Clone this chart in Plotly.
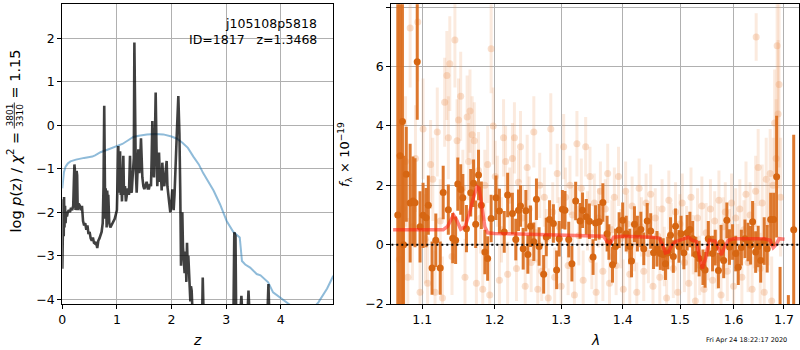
import plotly.graph_objects as go
import math

# ---------------- p(z) panel data ----------------
pz_z = [0.000, 0.008, 0.014, 0.020, 0.026, 0.032, 0.040, 0.050, 0.060, 0.070, 0.085, 0.100,
        0.120, 0.140, 0.160, 0.180, 0.200, 0.212, 0.222, 0.232, 0.242, 0.252, 0.262, 0.272,
        0.282, 0.300, 0.320, 0.340, 0.360, 0.380, 0.400, 0.420, 0.440, 0.460, 0.480, 0.500,
        0.520, 0.540, 0.560, 0.580, 0.600, 0.620, 0.640, 0.660, 0.680, 0.700, 0.720, 0.740,
        0.755, 0.768, 0.778, 0.786, 0.794, 0.802, 0.812, 0.822, 0.832, 0.842, 0.860, 0.880,
        0.900, 0.920, 0.940, 0.960, 0.980, 1.000, 1.012, 1.026, 1.036, 1.046, 1.058, 1.070,
        1.082, 1.093, 1.105, 1.118, 1.130, 1.148, 1.165, 1.180, 1.200, 1.220, 1.240, 1.255,
        1.271, 1.285, 1.300, 1.310, 1.320, 1.332, 1.345, 1.362, 1.378, 1.393, 1.410, 1.423,
        1.441, 1.455, 1.466, 1.485, 1.502, 1.520, 1.545, 1.565, 1.588, 1.605, 1.624, 1.636,
        1.649, 1.662, 1.679, 1.695, 1.710, 1.725, 1.740, 1.755, 1.771, 1.790, 1.807, 1.820,
        1.832, 1.850, 1.868, 1.890, 1.911, 1.925, 1.942, 1.960, 1.978, 1.995, 2.015, 2.030,
        2.039, 2.055, 2.076, 2.100, 2.125, 2.145, 2.160, 2.174, 2.186, 2.198, 2.210, 2.223,
        2.240, 2.259, 2.272, 2.284, 2.296, 2.308, 2.322, 2.334, 2.345, 2.356, 2.369, 2.385,
        2.400, 2.420, 2.450, 2.540, 2.560, 2.572, 2.584, 2.600, 3.100, 3.135, 3.150, 3.160,
        3.172, 3.185, 3.210, 3.255, 3.280, 3.300, 3.340, 3.390, 3.410, 3.430, 3.470, 3.740,
        3.760, 3.775, 3.790, 3.820, 4.963]
pz_logp = [-3.30, -2.40, -2.85, -1.70, -2.55, -1.65, -2.35, -1.85, -2.25, -2.00, -2.10, -2.00,
           -1.95, -2.00, -1.90, -1.95, -1.85, -1.30, -0.90, -1.05, -1.95, -1.50, -1.05, -1.15,
           -1.95, -1.80, -1.85, -1.95, -1.85, -2.20, -2.30, -2.25, -2.40, -2.30, -2.50, -2.45,
           -2.60, -2.65, -2.58, -2.70, -2.72, -2.68, -2.82, -2.65, -2.60, -2.50, -2.45, -2.25,
           -1.40, 0.45, -1.30, -2.15, -1.45, -1.65, -2.35, -1.50, -1.75, -1.60, -2.25, -2.35,
           -2.30, -2.25, -2.20, -2.15, -2.05, -1.95, -1.30, -0.48, -1.55, -1.40, -0.60, -1.60,
           -1.30, -1.75, -1.20, -0.70, -1.60, -1.40, -1.75, -1.60, -1.45, -1.60, -0.70, -1.50,
           -1.55, -1.25, -0.95, -0.75, 1.90, -0.50, -1.00, -1.55, -0.80, -0.55, -1.10, -0.93,
           -0.30, -1.00, -1.20, -1.40, -1.47, -1.40, -1.30, -1.45, -1.45, -1.35, -1.40, -0.80,
           0.10, -0.90, -1.20, -0.40, 0.75, -0.50, -1.40, -0.90, -0.63, -1.30, -1.16, -1.50,
           -0.86, -1.30, -1.40, -1.10, -0.82, -1.40, -1.70, -1.80, -2.00, -1.85, -1.47, -1.70,
           -1.95, -1.60, -0.63, -0.10, 0.67, -0.20, -1.50, -3.23, -2.60, -2.00, -2.80, -3.05,
           -3.40, -2.90, -3.60, -2.70, -3.20, -3.00, -3.60, -3.76, -4.05, -3.70, -3.80, -4.30,
           -4.20, -4.60, -5.00, -5.00, -4.50, -3.50, -4.50, -5.00, -5.00, -4.30, -2.46, -2.50,
           -2.55, -4.50, -5.00, -4.40, -3.92, -4.40, -5.00, -4.40, -3.80, -4.40, -5.00, -5.00,
           -4.00, -3.65, -4.30, -5.00, -5.00]

prior_z = [0.000, 0.010, 0.030, 0.060, 0.100, 0.150, 0.250, 0.400, 0.550, 0.600, 0.700, 0.850,
           1.000, 1.100, 1.200, 1.300, 1.400, 1.550, 1.700, 1.850, 2.000, 2.100, 2.200, 2.300,
           2.400, 2.500, 2.580, 2.680, 2.770, 2.890, 3.010, 3.130, 3.200, 3.250, 3.290, 3.350,
           3.440, 3.560, 3.630, 3.700, 3.770, 3.860, 3.960, 4.110, 4.300, 4.450, 4.600, 4.690,
           4.850, 4.963]
prior_logp = [-1.45, -1.30, -1.08, -0.95, -0.88, -0.83, -0.79, -0.75, -0.72, -0.69, -0.62, -0.55,
              -0.47, -0.43, -0.35, -0.27, -0.24, -0.21, -0.20, -0.21, -0.26, -0.31, -0.40, -0.52,
              -0.72, -0.90, -1.10, -1.30, -1.50, -1.82, -2.20, -2.45, -2.52, -2.58, -3.12, -3.20,
              -3.27, -3.42, -3.45, -3.52, -3.61, -3.84, -3.93, -4.07, -4.25, -4.35, -4.20, -4.07,
              -3.75, -3.46]

# ---------------- spectrum panel data ----------------
bright_wave = [1.068, 1.071, 1.074, 1.0755, 1.079, 1.084, 1.0877, 1.0904, 1.0933, 1.097, 1.101,
               1.105, 1.108, 1.113, 1.118, 1.124, 1.128, 1.135, 1.141, 1.145, 1.148, 1.152,
               1.155, 1.160, 1.166, 1.170, 1.173, 1.177, 1.181, 1.186, 1.190, 1.195, 1.202,
               1.207, 1.214, 1.219, 1.226, 1.231, 1.235, 1.238, 1.242, 1.246, 1.249, 1.253,
               1.258, 1.262, 1.266, 1.273, 1.277, 1.282, 1.288, 1.293, 1.297, 1.302, 1.306,
               1.312, 1.317, 1.323, 1.330, 1.334, 1.340, 1.345, 1.351, 1.355, 1.361, 1.367,
               1.374, 1.377, 1.383, 1.388, 1.394, 1.400, 1.406, 1.412, 1.415, 1.420, 1.425,
               1.431, 1.436, 1.442, 1.448, 1.453, 1.459, 1.465, 1.470, 1.474, 1.478, 1.483,
               1.488, 1.492, 1.498, 1.502, 1.507, 1.513, 1.518, 1.523, 1.529, 1.535, 1.542,
               1.546, 1.552, 1.560, 1.565, 1.571, 1.576, 1.581, 1.587, 1.592, 1.598, 1.604,
               1.609, 1.615, 1.622, 1.628, 1.633, 1.637, 1.643, 1.648, 1.653, 1.660, 1.666,
               1.673, 1.679, 1.685, 1.692, 1.709, 1.720]
bright_flux = [1.0, 3.0, 4.15, 0.0, 2.37, 1.40, 1.47, 1.41, 6.16, 0.60, 0.99,
               0.91, 1.33, -0.79, 0.15, -0.79, 1.76, 1.18, 0.22, 0.15, 2.04, 1.86,
               1.58, 0.54, 1.75, 2.07, 0.69, 2.35, 1.33, -0.25, -0.47, 0.88, 1.58,
               1.13, 0.43, 1.67, 1.05, 0.17, 1.16, 1.30, -0.14, 1.14, -0.33, 0.62,
               0.10, 1.53, -0.06, -1.00, 0.26, 0.85, 0.71, -0.85, 0.20, 1.19, 1.16,
               0.17, -0.64, 1.47, 0.80, 1.16, 0.94, 0.79, -0.42, 0.73, 0.77, 1.42,
               0.37, 0.09, -0.68, -0.06, 0.49, 0.82, 0.37, -0.06, -0.55, 0.69, 0.37,
               0.51, -0.14, 0.80, 0.46, -0.27, -0.14, -0.30, -0.33, -0.64, -0.28, 0.32,
               -0.40, 0.62, -0.06, 0.37, -0.28, 0.40, 0.51, 0.20, -0.33, -0.47, -0.76,
               -0.85, 0.20, -0.30, -0.10, -0.87, 0.06, -0.53, 0.82, -0.08, 0.09, -0.30,
               -0.76, -0.10, 0.20, 0.09, -0.02, 0.77, -0.25, -0.06, -0.53, 0.12, -0.14,
               0.85, 0.85, 2.29, -2.30, -2.50, 0.50]
bright_err = [10.0, 10.0, 10.0, 3.0, 1.6, 2.0, 1.5, 1.5, 1.95, 1.2, 1.1,
              1.0, 1.0, 0.9, 0.9, 0.9, 0.9, 0.85, 0.85, 0.8, 0.9, 0.85,
              0.8, 0.8, 0.8, 0.8, 0.8, 0.85, 0.8, 0.75, 0.75, 0.8, 0.75,
              0.75, 0.7, 0.75, 0.7, 0.7, 0.7, 0.7, 0.7, 0.7, 0.65, 0.7,
              0.65, 0.7, 0.65, 0.65, 0.65, 0.65, 0.65, 0.65, 0.6, 0.65, 0.65,
              0.6, 0.6, 0.65, 0.6, 0.6, 0.6, 0.6, 0.6, 0.6, 0.6, 0.65,
              0.6, 0.6, 0.6, 0.6, 0.6, 0.6, 0.6, 0.6, 0.55, 0.6, 0.6,
              0.6, 0.55, 0.6, 0.6, 0.55, 0.6, 0.55, 0.55, 0.55, 0.55, 0.6,
              0.55, 0.6, 0.55, 0.6, 0.55, 0.6, 0.6, 0.6, 0.6, 0.6, 0.6,
              0.6, 0.6, 0.6, 0.6, 0.6, 0.6, 0.6, 0.6, 0.6, 0.6, 0.6,
              0.6, 0.6, 0.65, 0.65, 0.65, 0.7, 0.7, 0.7, 0.75, 0.8, 0.8,
              0.9, 0.9, 2.05, 1.55, 0.8, 3.2]

faint_wave = [1.070, 1.074, 1.078, 1.081, 1.084, 1.087, 1.091, 1.094, 1.097, 1.101, 1.104,
              1.107, 1.111, 1.114, 1.117, 1.120, 1.124, 1.127, 1.130, 1.133, 1.135, 1.137,
              1.140, 1.144, 1.147, 1.149, 1.152, 1.155, 1.158, 1.161, 1.163, 1.165, 1.168,
              1.171, 1.174, 1.177, 1.180, 1.183, 1.186, 1.190, 1.193, 1.195, 1.198, 1.201,
              1.204, 1.207, 1.210, 1.213, 1.216, 1.219, 1.222, 1.226, 1.229, 1.232, 1.235,
              1.238, 1.241, 1.245, 1.248, 1.251, 1.254, 1.258, 1.261, 1.264, 1.267, 1.270,
              1.274, 1.277, 1.280, 1.284, 1.287, 1.290, 1.294, 1.297, 1.300, 1.304, 1.307,
              1.311, 1.314, 1.318, 1.321, 1.325, 1.328, 1.332, 1.335, 1.339, 1.342, 1.346,
              1.349, 1.353, 1.356, 1.360, 1.363, 1.367, 1.371, 1.375, 1.378, 1.382, 1.386,
              1.389, 1.393, 1.397, 1.401, 1.405, 1.408, 1.412, 1.416, 1.420, 1.424, 1.428,
              1.432, 1.436, 1.440, 1.444, 1.448, 1.452, 1.456, 1.460, 1.464, 1.468, 1.472,
              1.476, 1.480, 1.484, 1.488, 1.492, 1.496, 1.500, 1.504, 1.508, 1.512, 1.516,
              1.520, 1.524, 1.528, 1.532, 1.536, 1.540, 1.544, 1.548, 1.552, 1.556, 1.560,
              1.564, 1.568, 1.572, 1.576, 1.580, 1.584, 1.588, 1.592, 1.596, 1.600, 1.604,
              1.608, 1.612, 1.616, 1.620, 1.624, 1.628, 1.632, 1.636, 1.640, 1.643, 1.644,
              1.648, 1.652, 1.656, 1.660, 1.664, 1.668, 1.672, 1.675, 1.678, 1.681, 1.684,
              1.686, 1.688, 1.690, 1.693]
faint_flux = [-0.5, 1.2, 2.8, -1.1, 7.3, 0.6, 2.9, 7.5, -1.6, 3.9, 0.2,
              -1.3, 2.7, 2.2, -1.6, 3.8, 0.8, -1.8, 4.8, 5.7, 3.6, 6.1,
              -0.4, 6.9, 3.5, 4.2, 5.0, 1.9, -1.1, 4.3, 2.8, 4.5, 3.7,
              3.5, -1.3, 2.5, 0.9, -1.5, 2.0, 2.7, -1.7, 6.6, 4.0, 2.3,
              1.8, -1.2, 0.5, 3.6, 2.8, -1.0, 1.5, 2.9, 3.6, -0.8, 2.1,
              3.3, 0.9, -1.4, 2.6, 1.2, -0.6, 3.8, 0.4, -1.5, 2.0, -0.9,
              1.6, 0.2, -1.8, 3.9, 1.1, -1.1, 2.4, 0.6, -1.4, 3.3, 1.6,
              -0.7, 2.0, 1.0, -1.7, 3.4, 0.3, 1.9, -1.2, 3.3, 0.8, 2.3,
              -0.5, 1.4, -1.6, 0.9, 1.8, -0.9, 1.2, 2.4, -1.3, 0.5, 1.6,
              -0.7, 2.3, 0.2, -1.5, 1.8, 0.7, -1.0, 1.3, 0.1, -1.6, 1.9,
              0.6, -0.9, 1.4, -0.3, 1.7, -1.4, 0.9, 0.3, -1.1, 1.2, -0.4,
              -1.8, 1.5, 0.4, -0.8, 1.1, -1.6, 0.7, 1.4, -0.6, 0.3, -1.3,
              1.6, 0.0, -1.9, 0.9, -0.7, 1.3, -1.5, 0.4, -0.2, 1.2, -1.2,
              0.8, -0.5, 1.5, -1.7, 0.6, 1.1, -0.9, 0.2, 1.4, -1.4, 0.9,
              -0.3, 1.2, -1.1, 0.5, 1.7, -0.6, 1.0, -1.5, 0.3, 1.8, 7.0,
              2.6, -0.8, 1.4, -1.6, 2.2, 0.7, 2.4, -1.9, 2.0, 4.1, 2.9,
              6.7, 4.4, 5.4, 1.6]
faint_err = [2.5, 3.0, 2.2, 2.0, 2.0, 1.8, 1.8, 2.0, 1.6, 1.7, 1.5,
             1.5, 1.5, 1.4, 1.4, 1.5, 1.4, 1.4, 1.5, 1.5, 1.4, 1.6,
             1.3, 1.6, 1.4, 1.4, 1.5, 1.3, 1.3, 1.4, 1.3, 1.4, 1.3,
             1.3, 1.2, 1.3, 1.2, 1.2, 1.2, 1.3, 1.2, 1.5, 1.3, 1.2,
             1.2, 1.2, 1.1, 1.3, 1.2, 1.1, 1.1, 1.2, 1.2, 1.1, 1.1,
             1.2, 1.1, 1.1, 1.1, 1.1, 1.0, 1.2, 1.0, 1.0, 1.1, 1.0,
             1.0, 1.0, 1.0, 1.2, 1.0, 1.0, 1.0, 1.0, 1.0, 1.1, 1.0,
             1.0, 1.0, 1.0, 1.0, 1.1, 1.0, 1.0, 1.0, 1.0, 1.0, 1.0,
             1.0, 1.0, 1.0, 1.0, 1.0, 1.0, 1.0, 1.0, 1.0, 1.0, 1.0,
             1.0, 1.0, 1.0, 1.0, 1.0, 1.0, 1.0, 1.0, 1.0, 1.0, 1.0,
             1.0, 1.0, 1.0, 1.0, 1.0, 1.0, 1.0, 1.0, 1.0, 1.0, 1.0,
             1.0, 1.0, 1.0, 1.0, 1.0, 1.0, 1.0, 1.0, 1.0, 1.0, 1.0,
             1.0, 1.0, 1.0, 1.0, 1.0, 1.0, 1.0, 1.0, 1.0, 1.0, 1.0,
             1.0, 1.0, 1.0, 1.0, 1.0, 1.0, 1.0, 1.0, 1.0, 1.0, 1.0,
             1.0, 1.0, 1.0, 1.0, 1.1, 1.0, 1.1, 1.1, 1.1, 1.2, 0.8,
             1.3, 1.2, 1.3, 1.3, 1.4, 1.4, 1.5, 1.5, 1.6, 1.8, 2.0,
             2.5, 2.5, 2.8, 2.0]

model_wave = [1.062, 1.128, 1.134, 1.139, 1.142, 1.146, 1.152, 1.158, 1.164, 1.170, 1.175,
              1.178, 1.182, 1.186, 1.190, 1.200, 1.250, 1.300, 1.360, 1.368, 1.374, 1.379,
              1.385, 1.400, 1.450, 1.463, 1.469, 1.474, 1.479, 1.486, 1.492, 1.505, 1.515,
              1.522, 1.530, 1.536, 1.541, 1.547, 1.554, 1.565, 1.571, 1.577, 1.583, 1.590,
              1.600, 1.660, 1.672, 1.678, 1.684, 1.690, 1.701]
model_flux = [0.50, 0.50, 0.62, 0.90, 1.00, 0.85, 0.52, 0.60, 1.05, 1.60, 1.95,
              1.90, 1.30, 0.60, 0.40, 0.38, 0.35, 0.32, 0.30, 0.28, 0.10, 0.05,
              0.25, 0.28, 0.25, 0.22, 0.00, -0.28, -0.25, 0.00, 0.10, 0.20, 0.25,
              0.15, 0.10, -0.45, -0.80, -0.45, 0.15, 0.12, -0.15, -0.35, -0.05, 0.15,
              0.20, 0.20, 0.15, -0.10, 0.00, 0.20, 0.18]

zero_wave = [1.0597, 1.731]
zero_flux = [0.0, 0.0]

# ---------------- figure ----------------
fig = go.Figure()

fig.add_trace(go.Scatter(x=prior_z, y=prior_logp, mode="lines",
                         line=dict(color="rgba(31,119,180,0.5)", width=2),
                         xaxis="x", yaxis="y", showlegend=False))
fig.add_trace(go.Scatter(x=pz_z, y=pz_logp, mode="lines",
                         line=dict(color="rgba(0,0,0,0.75)", width=2.6),
                         xaxis="x", yaxis="y", showlegend=False))

fig.add_trace(go.Scatter(x=faint_wave, y=faint_flux, mode="markers",
                         marker=dict(color="rgba(236,150,90,0.3)", size=7),
                         error_y=dict(type="data", array=faint_err, width=0, thickness=3,
                                      color="rgba(236,150,90,0.2)"),
                         xaxis="x2", yaxis="y2", showlegend=False))
fig.add_trace(go.Scatter(x=bright_wave, y=bright_flux, mode="markers",
                         marker=dict(color="rgb(214,102,18)", size=7),
                         error_y=dict(type="data", array=bright_err, width=0, thickness=3,
                                      color="rgba(218,108,28,0.92)"),
                         xaxis="x2", yaxis="y2", showlegend=False))
fig.add_trace(go.Scatter(x=model_wave, y=model_flux, mode="lines",
                         line=dict(color="rgba(255,30,20,0.55)", width=3.5),
                         xaxis="x2", yaxis="y2", showlegend=False))
fig.add_trace(go.Scatter(x=zero_wave, y=zero_flux, mode="lines",
                         line=dict(color="black", width=2, dash="2px,3px"),
                         xaxis="x2", yaxis="y2", showlegend=False))

font_family = "DejaVu Sans"
axis_common = dict(showgrid=True, gridcolor="#b0b0b0", gridwidth=1, zeroline=False,
                   showline=True, linecolor="black", linewidth=1, mirror=True,
                   ticks="outside", ticklen=4, tickcolor="black", tickwidth=1,
                   automargin=False,
                   tickfont=dict(family=font_family, size=12.5, color="black"))

y_dom = [1 - 304 / 350, 1 - 4.3 / 350]

lam_ticks = [1.1, 1.2, 1.3, 1.4, 1.5, 1.6, 1.7]
fig.update_layout(
    width=800, height=350,
    margin=dict(l=0, r=0, t=0, b=0, autoexpand=False),
    paper_bgcolor="white", plot_bgcolor="white",
    font=dict(family=font_family, color="black"),
    xaxis=dict(domain=[62.3 / 800, 333.3 / 800], range=[0, 4.963],
               tickvals=[0, 1, 2, 3, 4], anchor="y", **axis_common),
    yaxis=dict(domain=y_dom, range=[-4.108, 2.78],
               tickvals=[-4, -3, -2, -1, 0, 1, 2],
               ticktext=["\u22124", "\u22123", "\u22122", "\u22121", "0", "1", "2"],
               anchor="x", **axis_common),
    xaxis2=dict(domain=[391.3 / 800, 799 / 800], type="log",
                range=[math.log10(1.0597), math.log10(1.731)],
                tickmode="array", tickvals=lam_ticks,
                ticktext=[str(t) for t in lam_ticks], anchor="y2", **axis_common),
    yaxis2=dict(domain=y_dom, range=[-2, 8.1], tickvals=[-2, 0, 2, 4, 6, 8],
                ticktext=["\u22122", "0", "2", "4", "6", "8"],
                anchor="x2", **axis_common),
)

def px_x(p):
    return p / 800

def px_y(p):
    return 1 - p / 350

ann = []
ann.append(dict(text="j105108p5818", x=px_x(318.5), y=px_y(14.5), xanchor="right", yanchor="top",
                font=dict(size=12.5)))
ann.append(dict(text="ID=1817   z=1.3468", x=px_x(318.5), y=px_y(29.5), xanchor="right",
                yanchor="top", font=dict(size=12.5)))
# left y-axis label, with a stacked fraction between its two halves
ann.append(dict(text="log <i>p</i>(z) / <i>χ</i><sup>2</sup> =", x=px_x(14), y=px_y(130),
                xanchor="center", yanchor="top", textangle=-90, font=dict(size=14.5)))
ann.append(dict(text="3801", x=px_x(9), y=px_y(115.5), xanchor="center", yanchor="middle",
                textangle=-90, font=dict(size=9)))
ann.append(dict(text="3310", x=px_x(19.5), y=px_y(115.5), xanchor="center", yanchor="middle",
                textangle=-90, font=dict(size=9)))
ann.append(dict(text="= 1.15", x=px_x(14), y=px_y(101), xanchor="center", yanchor="bottom",
                textangle=-90, font=dict(size=14.5)))
ann.append(dict(text="<i>f</i><sub>λ</sub> × 10<sup>−19</sup>", x=px_x(345), y=px_y(155),
                xanchor="center", yanchor="middle", textangle=-90, font=dict(size=13)))
ann.append(dict(text="<i>z</i>", x=px_x(197), y=px_y(340), xanchor="center", yanchor="middle",
                font=dict(size=14)))
ann.append(dict(text="<i>λ</i>", x=px_x(595), y=px_y(340), xanchor="center", yanchor="middle",
                font=dict(size=14)))
ann.append(dict(text="Fri Apr 24 18:22:17 2020", x=px_x(789), y=px_y(339.5), xanchor="right",
                yanchor="middle", font=dict(size=6.5)))
for a in ann:
    a.update(xref="paper", yref="paper", showarrow=False)
fig.update_layout(annotations=ann)

fig.add_shape(type="line", xref="paper", yref="paper",
              x0=px_x(14.3), x1=px_x(14.3), y0=px_y(102.5), y1=px_y(128.5),
              line=dict(color="black", width=0.8))

fig.write_html("out.html")
